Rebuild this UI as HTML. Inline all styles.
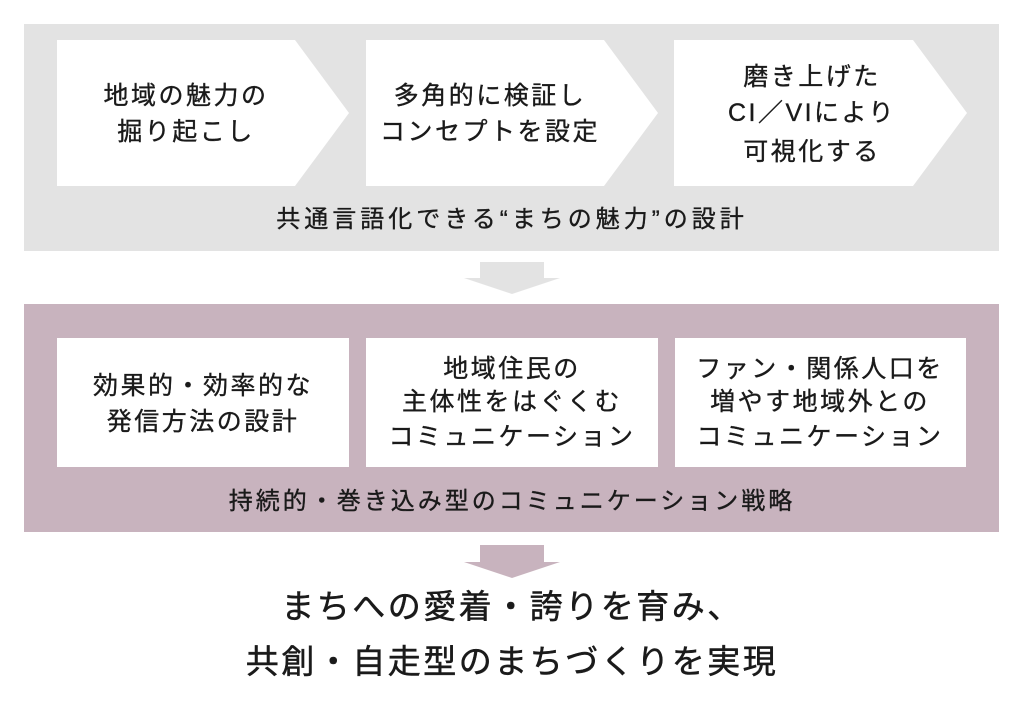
<!DOCTYPE html>
<html><head><meta charset="utf-8"><style>
html,body{margin:0;padding:0;background:#fff;}
svg{display:block;}
text{font-family:"Liberation Sans","Noto Sans CJK JP",sans-serif;fill:#1a1a1a;text-anchor:middle;stroke:#1a1a1a;stroke-width:0.35px;}
.b{font-size:25px;letter-spacing:2.5px;}
.l{font-size:24px;letter-spacing:3px;}
.g{font-size:24px;letter-spacing:4px;}
.t{font-size:33px;letter-spacing:2.5px;stroke-width:0.5px;}
</style></head><body>
<svg width="1024" height="702" viewBox="0 0 1024 702">
<rect x="24" y="24" width="975" height="227" fill="#e3e3e3"/>
<polygon points="57,40 295,40 349,113 295,186 57,186" fill="#fff"/>
<polygon points="366,40 604,40 658,113 604,186 366,186" fill="#fff"/>
<polygon points="674,40 913,40 967,113 913,186 674,186" fill="#fff"/>
<text class="b" x="186" y="104">地域の魅力の</text>
<text class="b" x="186" y="140">掘り起こし</text>
<text class="b" x="490" y="104">多角的に検証し</text>
<text class="b" x="490" y="140">コンセプトを設定</text>
<text class="b" x="812" y="85">磨き上げた</text>
<text class="b" x="812" y="121">CI／VIにより</text>
<text class="b" x="812" y="160">可視化する</text>
<text class="g" x="512" y="227">共通言語化できる“まちの魅力”の設計</text>
<polygon points="480,262 544,262 544,278 560,278 512,294 464,278 480,278" fill="#e3e3e3"/>
<rect x="24" y="304" width="975" height="228" fill="#c8b3be"/>
<rect x="57" y="338" width="292" height="129" fill="#fff"/>
<rect x="366" y="338" width="292" height="129" fill="#fff"/>
<rect x="675" y="338" width="291" height="129" fill="#fff"/>
<text class="b" x="203" y="394">効果的・効率的な</text>
<text class="b" x="203" y="430">発信方法の設計</text>
<text class="b" x="512" y="377">地域住民の</text>
<text class="b" x="512" y="410">主体性をはぐくむ</text>
<text class="b" x="512" y="445">コミュニケーション</text>
<text class="b" x="820" y="377">ファン・関係人口を</text>
<text class="b" x="820" y="410">増やす地域外との</text>
<text class="b" x="820" y="445">コミュニケーション</text>
<text class="l" x="512" y="509">持続的・巻き込み型のコミュニケーション戦略</text>
<polygon points="480,545 544,545 544,562 560,562 512,578 464,562 480,562" fill="#c8b3be"/>
<text class="t" x="512" y="618">まちへの愛着・誇りを育み、</text>
<text class="t" x="512" y="673">共創・自走型のまちづくりを実現</text>
</svg>
</body></html>
